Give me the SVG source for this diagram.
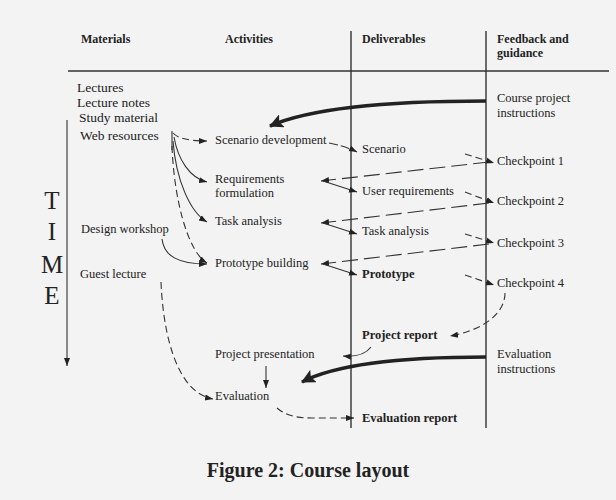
<svg xmlns="http://www.w3.org/2000/svg" width="616" height="500" viewBox="0 0 616 500">
<style>
text{font-family:"Liberation Serif","Times New Roman",serif;fill:#222;font-size:12.5px}
.m{font-size:13.5px}
.h{font-weight:bold;font-size:12px}
.b{font-weight:bold}
.time{font-size:25px}
.cap{font-weight:bold;font-size:20px;text-anchor:middle}
.ln{stroke:#333;stroke-width:1.4;fill:none}
.c{stroke:#333;stroke-width:1.1;fill:none;marker-end:url(#ah)}
.d{stroke-dasharray:7 4}
.t{stroke:#222;stroke-width:3.6;fill:none;marker-end:url(#big)}
</style>
<defs>
<marker id="ah" markerUnits="userSpaceOnUse" markerWidth="9" markerHeight="8" refX="8" refY="4" orient="auto"><path d="M0,1 L8,4 L0,7 Z" fill="#222"/></marker>
<marker id="big" markerUnits="userSpaceOnUse" markerWidth="16" markerHeight="14" refX="13" refY="7" orient="auto"><path d="M0,0 L14,7 L0,14 L3,7 Z" fill="#222"/></marker>
</defs>
<rect width="616" height="500" fill="#f3f3f3"/>
<g id="grid">
<line class="ln" x1="68" y1="71" x2="609" y2="71"/>
<line class="ln" x1="351" y1="31" x2="351" y2="428"/>
<line class="ln" x1="486" y1="31" x2="486" y2="428"/>
</g>
<g id="headers">
<text class="h" x="81" y="43">Materials</text>
<text class="h" x="225" y="43">Activities</text>
<text class="h" x="362" y="43">Deliverables</text>
<text class="h" x="497" y="43">Feedback and</text>
<text class="h" x="497" y="57">guidance</text>
</g>
<g id="time">
<text class="time" x="52" y="209" text-anchor="middle">T</text>
<text class="time" x="52" y="240" text-anchor="middle">I</text>
<text class="time" x="52" y="273" text-anchor="middle">M</text>
<text class="time" x="52" y="304" text-anchor="middle">E</text>
</g>
<g id="materials">
<text class="m" x="77" y="92">Lectures</text>
<text class="m" x="77" y="107">Lecture notes</text>
<text class="m" x="79" y="122">Study material</text>
<text class="m" x="80" y="140">Web resources</text>
</g>
<g id="design-workshop"><text x="81" y="233">Design workshop</text></g>
<g id="guest-lecture"><text x="80" y="278">Guest lecture</text></g>
<g id="scenario-development"><text x="215" y="144">Scenario development</text></g>
<g id="requirements-formulation"><text x="215" y="183">Requirements</text><text x="215" y="197">formulation</text></g>
<g id="task-analysis-act"><text x="215" y="225">Task analysis</text></g>
<g id="prototype-building"><text x="215" y="267">Prototype building</text></g>
<g id="project-presentation"><text x="215" y="358">Project presentation</text></g>
<g id="evaluation"><text x="215" y="400">Evaluation</text></g>
<g id="scenario"><text x="362" y="153">Scenario</text></g>
<g id="user-requirements"><text x="362" y="195">User requirements</text></g>
<g id="task-analysis-del"><text x="362" y="235">Task analysis</text></g>
<g id="prototype"><text class="b" x="362" y="278">Prototype</text></g>
<g id="project-report"><text class="b" x="362" y="339">Project report</text></g>
<g id="evaluation-report"><text class="b" x="362" y="422">Evaluation report</text></g>
<g id="course-project-instructions"><text x="497" y="102">Course project</text><text x="497" y="117">instructions</text></g>
<g id="checkpoint-1"><text x="497" y="165">Checkpoint 1</text></g>
<g id="checkpoint-2"><text x="497" y="205">Checkpoint 2</text></g>
<g id="checkpoint-3"><text x="497" y="247">Checkpoint 3</text></g>
<g id="checkpoint-4"><text x="497" y="287">Checkpoint 4</text></g>
<g id="evaluation-instructions"><text x="497" y="358">Evaluation</text><text x="497" y="373">instructions</text></g>
<g id="caption"><text class="cap" x="308" y="477">Figure 2: Course layout</text></g>
<g id="connectors">
<path class="c" d="M67,120 L67,366"/>
<path class="ln" d="M172,131 L172,150" style="stroke-width:1.1"/>
<path class="c d" d="M173,133 Q180,141 207,141"/>
<path class="c" d="M174,137 C178,160 190,178 207,182"/>
<path class="c" d="M173,141 C176,180 190,212 207,222"/>
<path class="c d" d="M172,146 C174,200 188,252 207,263"/>
<path class="c" d="M162,239 C164,256 178,264 207,264"/>
<path class="c d" d="M161,282 C163,330 175,392 213,399"/>
<path class="c d" d="M329,143 Q345,146 357,152" style="stroke-dasharray:9 3"/>
<path class="c d" d="M489,162 L321,181" style="stroke-dasharray:16 6"/>
<path class="c" d="M323,181 L357,192"/>
<path class="c d" d="M489,203 L321,223" style="stroke-dasharray:16 6"/>
<path class="c" d="M323,223 L357,234"/>
<path class="c d" d="M489,244 L321,264" style="stroke-dasharray:16 6"/>
<path class="c" d="M323,264 L357,275"/>
<path class="c d" d="M465,154 L494,163"/>
<path class="c d" d="M465,192 L494,203"/>
<path class="c d" d="M465,234 L494,243"/>
<path class="c d" d="M465,275 L494,285"/>
<path class="c d" d="M505,293 C505,315 480,331 450,336"/>
<path class="c" d="M371,347 C365,355 355,357 343,356"/>
<path class="c" d="M266,366 L266,388"/>
<path class="c d" d="M277,408 C285,415 295,418 312,418 L354,418"/>
<path class="t" d="M486,101 C420,101 320,104 270,126"/>
<path class="t" d="M486,357 C420,357 340,362 302,382"/>
</g>
</svg>
